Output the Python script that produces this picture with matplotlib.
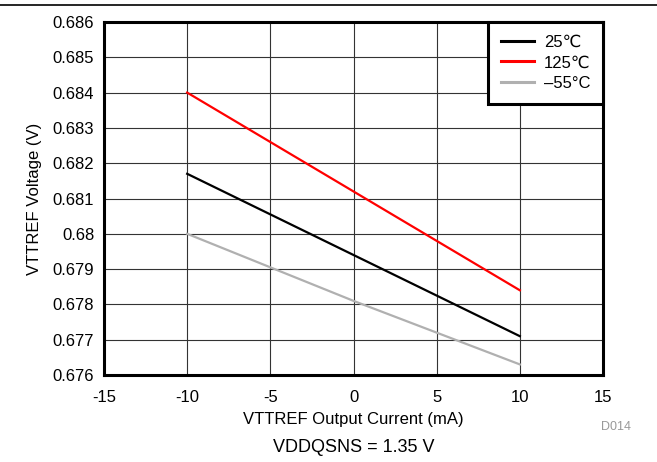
import matplotlib
matplotlib.use("Agg")
import matplotlib.pyplot as plt

plt.rcParams['font.family'] = ['Liberation Sans', 'DejaVu Sans']
plt.rcParams['axes.unicode_minus'] = False

# Output current (mA)
current = [-10, 0, 10]
# VTTREF voltage (V) per temperature
v_25 = [0.6817, 0.6794, 0.6771]
v_125 = [0.6840, 0.6812, 0.6784]
v_m55 = [0.6800, 0.6781, 0.6763]

labels = ['25\u2103', '125\u2103', '\u201355\u00b0C']
colors = ['#000000', '#ff0000', '#b0b0b0']

fig = plt.figure(figsize=(6.57, 4.62), dpi=100)
ax = fig.add_axes([104 / 657, 1 - 375 / 462, (603 - 104) / 657, (375 - 22) / 462])

for y, lab, c in zip([v_25, v_125, v_m55], labels, colors):
    ax.plot(current, y, color=c, lw=1.6, label=lab)

ax.set_xlim(-15, 15)
ax.set_ylim(0.676, 0.686)
ax.set_xticks(range(-15, 16, 5))
ax.set_yticks([0.676 + 0.001 * i for i in range(11)])
ax.set_yticklabels(['0.676', '0.677', '0.678', '0.679', '0.68', '0.681',
                    '0.682', '0.683', '0.684', '0.685', '0.686'])
ax.grid(True, color='#333333', lw=0.8)
ax.set_axisbelow(True)
ax.tick_params(length=0, labelsize=12)
ax.tick_params(axis='x', pad=11)
ax.tick_params(axis='y', pad=7)
for s in ax.spines.values():
    s.set_linewidth(2.2)

ax.set_xlabel('VTTREF Output Current (mA)', fontsize=12, labelpad=5)
ax.set_ylabel('VTTREF Voltage (V)', fontsize=12, labelpad=8)

leg = ax.legend(loc='upper right', fontsize=12, frameon=True, fancybox=False,
                borderaxespad=0, handlelength=2.0, handletextpad=0.6,
                labelspacing=0.35, borderpad=0.75)
leg.get_frame().set_edgecolor('black')
leg.get_frame().set_linewidth(2.2)
leg.get_frame().set_alpha(1)
for h in leg.get_lines():
    h.set_linewidth(2.2)

# top rule
fig.add_artist(plt.Line2D([0, 1], [1 - 5 / 462, 1 - 5 / 462], color='black', lw=1.2))

fig.text(354 / 657, 1 - 448 / 462, 'VDDQSNS = 1.35 V', fontsize=13,
         ha='center', va='center')
fig.text(616 / 657, 1 - 427 / 462, 'D014', fontsize=9, color='#999999',
         ha='center', va='center')

fig.savefig('out.png', dpi=100)
